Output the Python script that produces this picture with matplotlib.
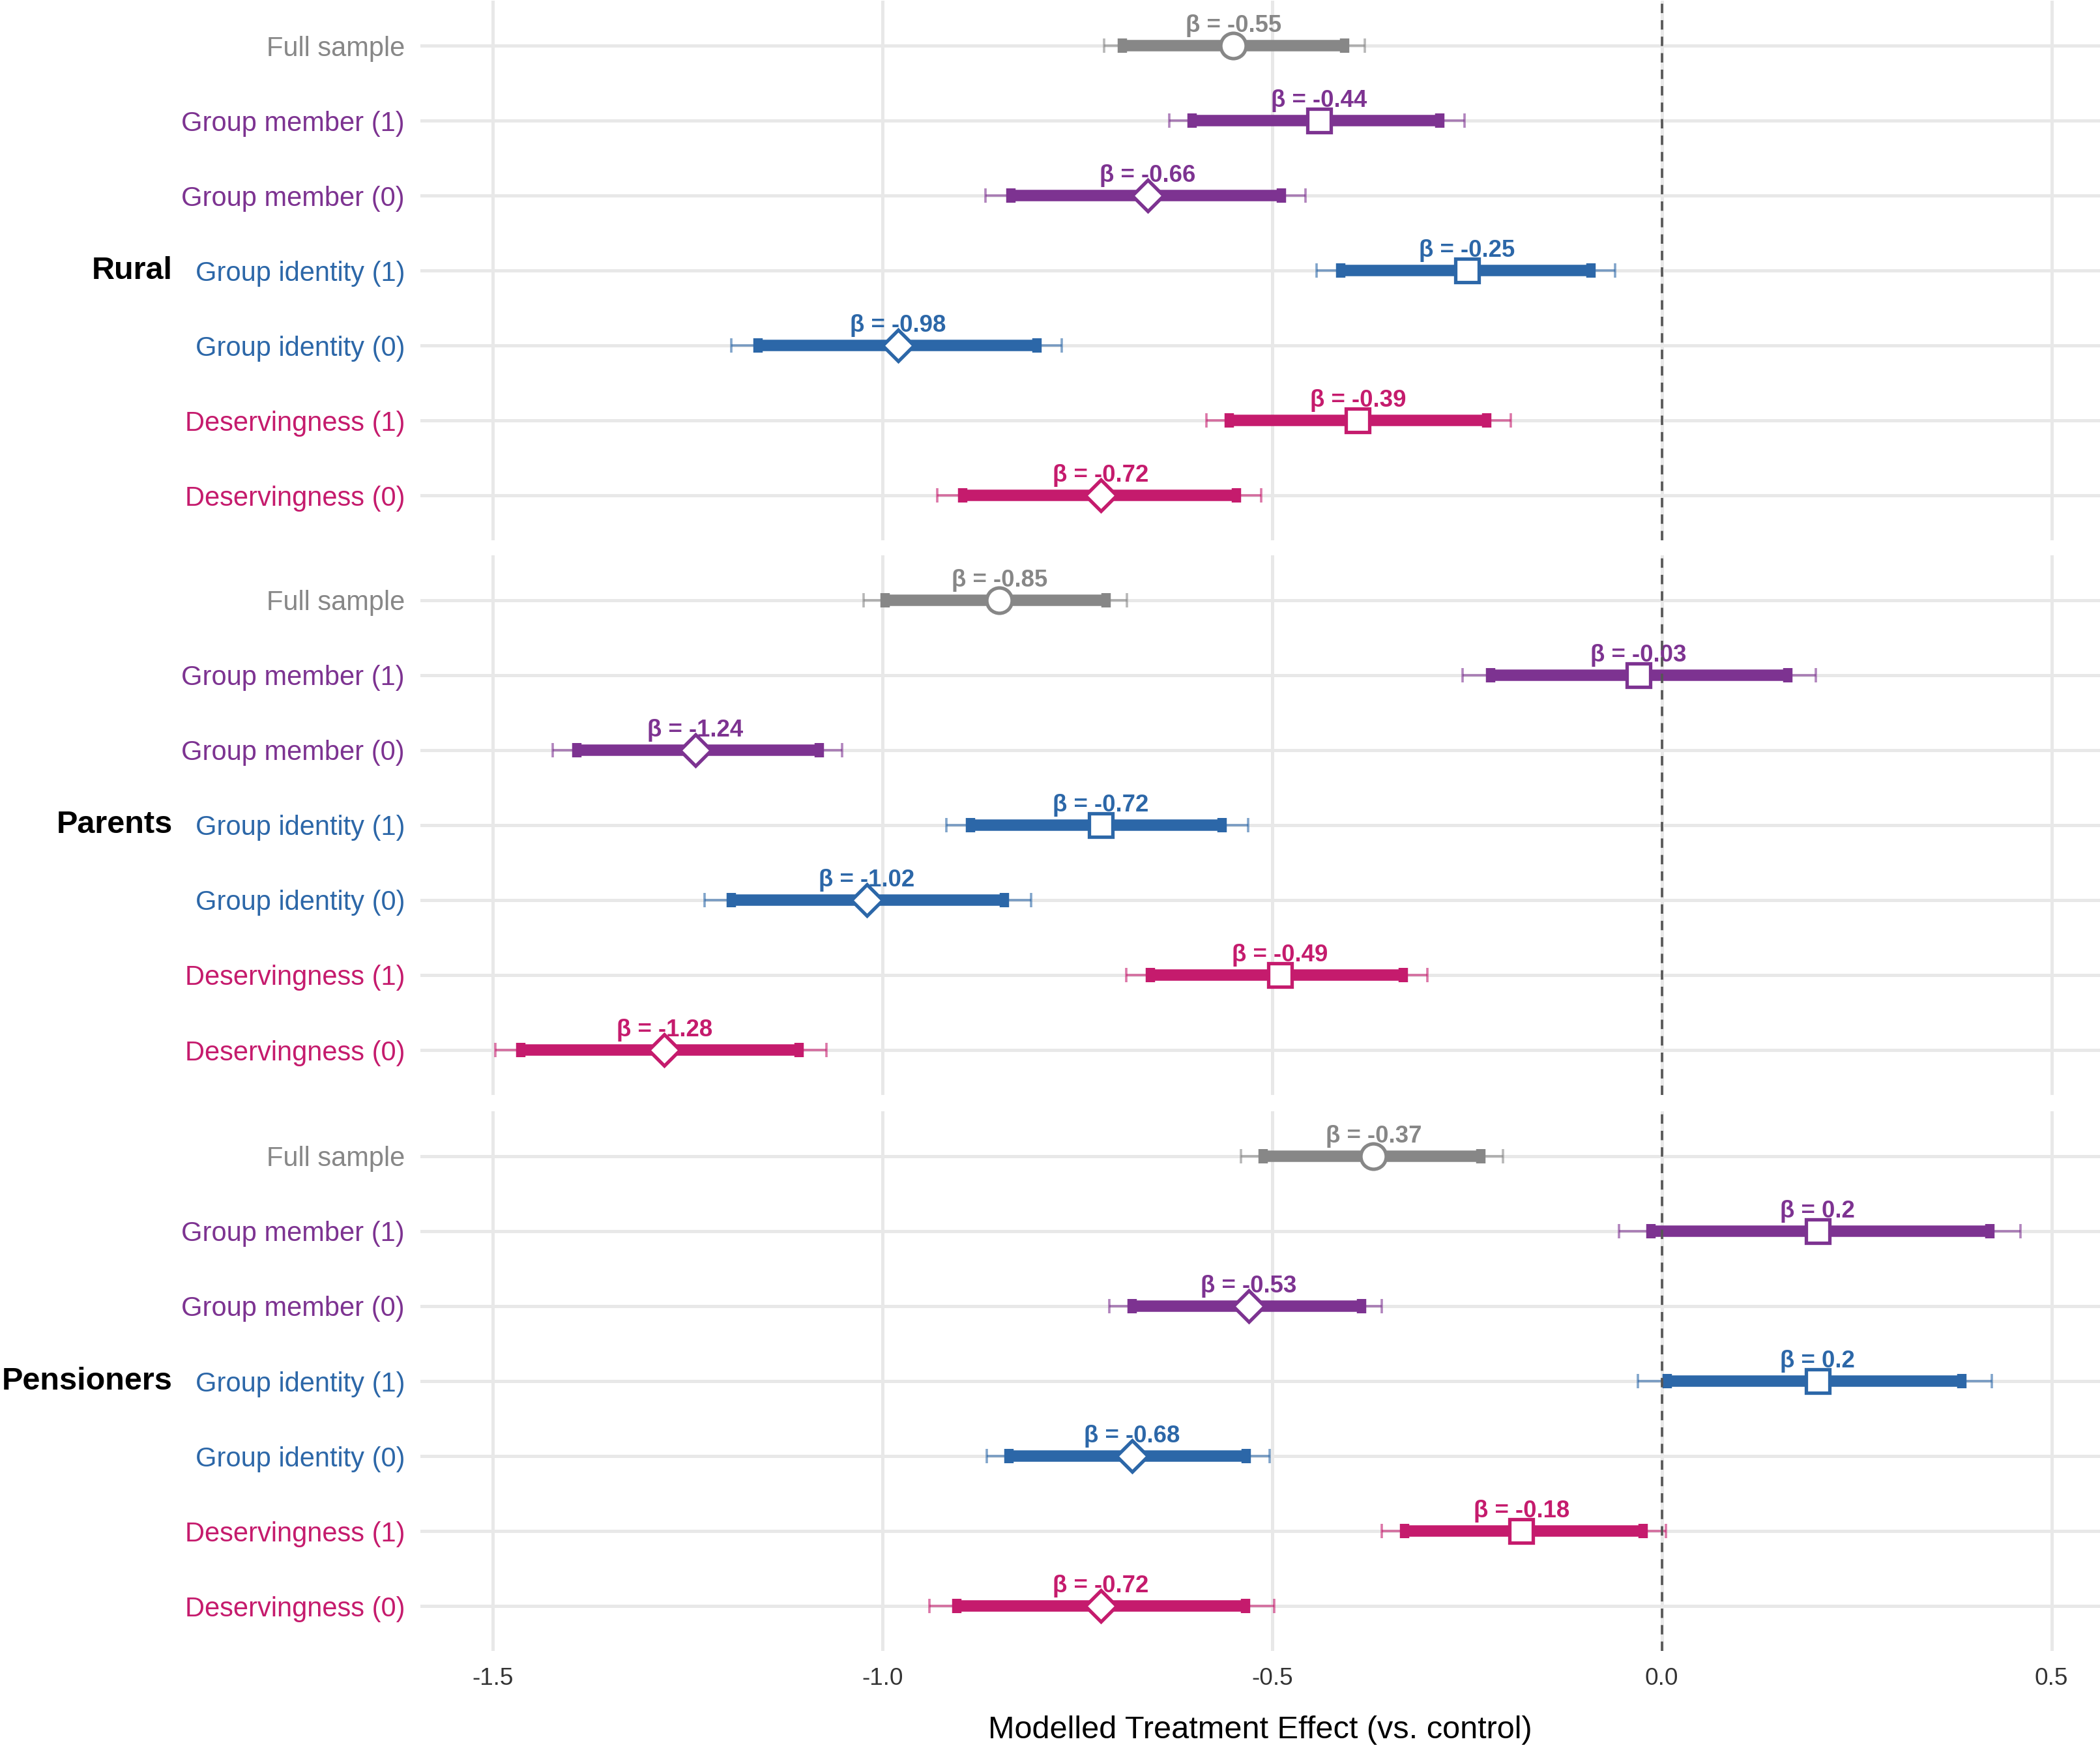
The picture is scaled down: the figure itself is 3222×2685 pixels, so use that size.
import matplotlib
matplotlib.use("Agg")
import matplotlib.pyplot as plt
from matplotlib.transforms import blended_transform_factory

plt.rcParams['font.family'] = ['Liberation Sans', 'DejaVu Sans']

# rows, top to bottom within each panel
row_labels = ["Full sample", "Group member (1)", "Group member (0)",
              "Group identity (1)", "Group identity (0)",
              "Deservingness (1)", "Deservingness (0)"]
row_colors = ["#878787", "#7D3391", "#7D3391", "#2C67A8", "#2C67A8",
              "#C51B6D", "#C51B6D"]
row_markers = ["o", "s", "D", "s", "D", "s", "D"]

groups = ["Rural", "Parents", "Pensioners"]

# estimates, 90% (thick) and 95% (thin) intervals
rural_est = [-0.55, -0.44, -0.66, -0.25, -0.98, -0.39, -0.72]
rural_lo90 = [-0.692, -0.603, -0.835, -0.412, -1.160, -0.555, -0.897]
rural_hi90 = [-0.407, -0.285, -0.488, -0.091, -0.802, -0.225, -0.546]
rural_lo95 = [-0.716, -0.632, -0.868, -0.443, -1.194, -0.584, -0.930]
rural_hi95 = [-0.381, -0.253, -0.457, -0.060, -0.770, -0.194, -0.514]

parents_est = [-0.85, -0.03, -1.24, -0.72, -1.02, -0.49, -1.28]
parents_lo90 = [-0.997, -0.220, -1.392, -0.887, -1.194, -0.656, -1.464]
parents_hi90 = [-0.713, 0.162, -1.081, -0.564, -0.844, -0.332, -1.107]
parents_lo95 = [-1.024, -0.256, -1.423, -0.918, -1.228, -0.687, -1.497]
parents_hi95 = [-0.686, 0.198, -1.052, -0.531, -0.809, -0.301, -1.072]

pens_est = [-0.37, 0.2, -0.53, 0.2, -0.68, -0.18, -0.72]
pens_lo90 = [-0.512, -0.014, -0.680, 0.007, -0.838, -0.330, -0.905]
pens_hi90 = [-0.232, 0.421, -0.385, 0.385, -0.533, -0.024, -0.534]
pens_lo95 = [-0.540, -0.055, -0.709, -0.031, -0.866, -0.359, -0.940]
pens_hi95 = [-0.204, 0.460, -0.359, 0.423, -0.503, 0.005, -0.497]

panels = [
    (rural_est, rural_lo90, rural_hi90, rural_lo95, rural_hi95),
    (parents_est, parents_lo90, parents_hi90, parents_lo95, parents_hi95),
    (pens_est, pens_lo90, pens_hi90, pens_lo95, pens_hi95),
]

xticks = [-1.5, -1.0, -0.5, 0.0, 0.5]

fig = plt.figure(figsize=(16.115, 13.425), dpi=200)

left, width = 0.2001, 0.7995
height = 0.3084
bottoms = [0.6912, 0.3743, 0.0566]

n = len(row_labels)
ypos = list(range(n, 0, -1))
msizes = {"o": 14, "s": 13, "D": 12}

for k, (est, lo90, hi90, lo95, hi95) in enumerate(panels):
    ax = fig.add_axes([left, bottoms[k], width, height])
    ax.set_xlim(-1.593, 0.562)
    ax.set_ylim(0.4, n + 0.6)
    ax.set_xticks(xticks)
    ax.set_yticks(ypos)
    ax.set_yticklabels(row_labels, fontsize=15)
    for lab, c in zip(ax.get_yticklabels(), row_colors):
        lab.set_color(c)
    ax.tick_params(axis='both', length=0)
    ax.tick_params(axis='y', pad=8.6)
    ax.tick_params(axis='x', pad=9, labelsize=13.3, labelcolor='#333333')
    for s in ax.spines.values():
        s.set_visible(False)
    ax.grid(True, color='#E8E8E8', lw=1.8)
    ax.set_axisbelow(True)

    for i in range(n):
        y = ypos[i]
        c = row_colors[i]
        # thin 95% interval
        ax.errorbar([est[i]], [y], xerr=[[est[i] - lo95[i]], [hi95[i] - est[i]]],
                    fmt='none', ecolor=c, alpha=0.6, elinewidth=1.3,
                    capsize=3.8, capthick=1.3, zorder=2)
        # thick 90% interval
        ax.errorbar([est[i]], [y], xerr=[[est[i] - lo90[i]], [hi90[i] - est[i]]],
                    fmt='none', ecolor=c, elinewidth=6.3,
                    capsize=4.0, capthick=5.2, zorder=3)
        ax.plot([est[i]], [y], marker=row_markers[i], ms=msizes[row_markers[i]],
                mfc='white', mec=c, mew=1.9, ls='none', zorder=4)
        ax.annotate(f"β = {est[i]:g}", (est[i], y), xytext=(0, 7.5),
                    textcoords='offset points', ha='center', va='baseline',
                    fontsize=13.2, fontweight='bold', color=c, zorder=5)

    ax.axvline(0, color='#555555', lw=1.3, dashes=(4, 3), zorder=6)

    tr = blended_transform_factory(fig.transFigure, ax.transData)
    ax.text(265 / 3223, ypos[3], groups[k], transform=tr, ha='right',
            va='center', fontsize=17.5, fontweight='bold', color='black')

    if k < 2:
        ax.set_xticklabels([])
    else:
        ax.set_xticklabels([f"{t:.1f}" for t in xticks])
        ax.set_xlabel("Modelled Treatment Effect (vs. control)", fontsize=17.5,
                      labelpad=14, color='black')

fig.savefig("out.png", dpi=200)
